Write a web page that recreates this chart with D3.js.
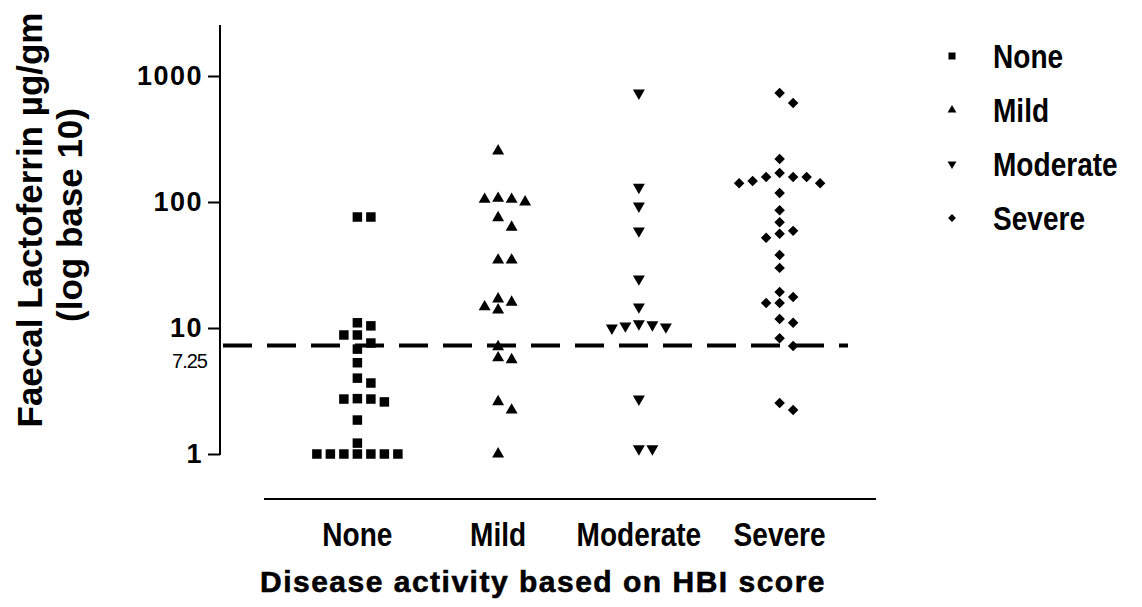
<!DOCTYPE html>
<html>
<head>
<meta charset="utf-8">
<script src="https://cdn.jsdelivr.net/npm/d3@7"></script>
<style>
	body { margin: 0; background: #fff; }
	text { fill: #000; }
</style>
</head>
<body>
<div id="chart"></div>
<script>
const categories = ["None", "Mild", "Moderate", "Severe"];
const noneValues = [76, 76, 11, 10.4, 8.8, 8.8, 7.6, 6.8, 5.3, 4.0, 3.66, 2.75, 2.73, 2.73, 2.59, 1.86, 1.22, 1, 1, 1, 1, 1, 1, 1];
const mildValues = [254, 107, 105, 105, 100, 75, 63, 34.6, 34.6, 17, 16, 14.7, 13.9, 7.1, 5.8, 5.6, 2.6, 2.23, 1];
const moderateValues = [733, 131, 93, 59, 24.5, 14.7, 10.8, 10.6, 10.4, 10.2, 10, 2.73, 1.1, 1.1];
const severeValues = [733, 611, 219, 170, 158, 158, 158, 147, 141, 141, 118, 86, 69, 59, 56, 52, 38, 30, 19.3, 17.6, 15.8, 15.8, 11.8, 11, 8.3, 7.2, 2.54, 2.23];
const yTicks = [1, 10, 100, 1000];
const cutoff = 7.25;

const groups = [noneValues, mildValues, moderateValues, severeValues];

const width = 1142;
const height = 607;
const SANS = "'Liberation Sans', Arial, sans-serif";

let svg = d3
	.select("#chart")
	.append("svg")
	.attr("width", width)
	.attr("height", height);

let y = d3.scaleLog().domain([1, 1000]).range([454, 76]);
let x = d3.scalePoint().domain(categories).range([287, 850]).padding(0.5);

// symbols: square, triangle up, triangle down, diamond
const shapes = [
	{ type: d3.symbolSquare, size: 90, rot: 0 },
	{ type: d3.symbolTriangle, size: 62, rot: 0 },
	{ type: d3.symbolTriangle, size: 62, rot: 180 },
	{ type: d3.symbolDiamond2, size: 70, rot: 0 },
];

// no narrow font installed, so squeeze the text ourselves
function narrow(sel, k) {
	sel.each(function () {
		const len = this.getComputedTextLength();
		d3.select(this)
			.attr("textLength", len * k)
			.attr("lengthAdjust", "spacingAndGlyphs");
	});
}

// y axis
let yAxis = svg
	.append("g")
	.attr("transform", "translate(220,0)")
	.call(
		d3.axisLeft(y)
			.tickValues(yTicks)
			.tickFormat(d3.format("d"))
			.tickSize(12)
			.tickPadding(5)
	);
yAxis.select(".domain").remove();
yAxis.selectAll(".tick line").attr("stroke", "#000").attr("stroke-width", 2);
yAxis
	.selectAll(".tick text")
	.attr("font-family", SANS)
	.attr("font-weight", "bold")
	.attr("font-size", "27px")
	.attr("letter-spacing", "1.5px");
svg.append("line")
	.attr("x1", 220).attr("x2", 220)
	.attr("y1", 25).attr("y2", y(1) + 1)
	.attr("stroke", "#000")
	.attr("stroke-width", 2);

// x axis line (no ticks)
svg.append("line")
	.attr("x1", 264).attr("x2", 876)
	.attr("y1", 499).attr("y2", 499)
	.attr("stroke", "#000")
	.attr("stroke-width", 2);

svg.append("g")
	.selectAll("text")
	.data(categories)
	.join("text")
	.attr("x", (d) => x(d))
	.attr("y", 546)
	.attr("text-anchor", "middle")
	.attr("font-family", SANS)
	.attr("font-weight", "bold")
	.attr("font-size", "33px")
	.text((d) => d)
	.call(narrow, 0.85);

// cutoff line
svg.append("line")
	.attr("x1", 223).attr("x2", 848)
	.attr("y1", y(cutoff)).attr("y2", y(cutoff))
	.attr("stroke", "#000")
	.attr("stroke-width", 4)
	.attr("stroke-dasharray", "29,15");

svg.append("text")
	.attr("x", 207)
	.attr("y", y(cutoff) + 22)
	.attr("text-anchor", "end")
	.attr("font-family", SANS)
	.attr("font-size", "20px")
	.attr("letter-spacing", "-1px")
	.text(cutoff);

// spread points sideways so they don't overlap
const slotW = 13.5;
const minDy = 10.5;
const slotOrder = [0, 1, -1, 2, -2, 3, -3, 4, -4, 5, -5];

let points = [];
groups.forEach(function (vals, gi) {
	let placed = [];
	vals.forEach(function (v) {
		const py = y(v);
		let slot = 0;
		for (let s of slotOrder) {
			let clash = placed.some(function (p) {
				return p.slot === s && Math.abs(p.py - py) < minDy;
			});
			if (!clash) {
				slot = s;
				break;
			}
		}
		placed.push({ slot: slot, py: py });
		points.push({ group: gi, value: v, px: x(categories[gi]) + slot * slotW, py: py });
	});
});

svg.append("g")
	.selectAll("path")
	.data(points)
	.join("path")
	.attr("d", (d) => d3.symbol().type(shapes[d.group].type).size(shapes[d.group].size)())
	.attr("transform", (d) => "translate(" + d.px + "," + d.py + ") rotate(" + shapes[d.group].rot + ")")
	.attr("fill", "#000");

// legend
let legend = svg
	.append("g")
	.selectAll("g")
	.data(categories)
	.join("g")
	.attr("transform", (d, i) => "translate(952," + (56 + i * 54) + ")");

legend
	.append("path")
	.attr("d", (d, i) => d3.symbol().type(shapes[i].type).size(shapes[i].size * 0.55)())
	.attr("transform", (d, i) => "rotate(" + shapes[i].rot + ")")
	.attr("fill", "#000");

legend
	.append("text")
	.attr("x", 41)
	.attr("y", 12)
	.attr("font-family", SANS)
	.attr("font-weight", "bold")
	.attr("font-size", "33px")
	.text((d) => d)
	.call(narrow, 0.85);

// axis titles
svg.append("text")
	.attr("transform", "translate(42,220) rotate(-90)")
	.attr("text-anchor", "middle")
	.attr("font-family", SANS)
	.attr("font-weight", "bold")
	.attr("font-size", "35px")
	.text("Faecal Lactoferrin µg/gm");

svg.append("text")
	.attr("transform", "translate(82,215) rotate(-90)")
	.attr("text-anchor", "middle")
	.attr("font-family", SANS)
	.attr("font-weight", "bold")
	.attr("font-size", "35px")
	.text("(log base 10)");

svg.append("text")
	.attr("x", 543)
	.attr("y", 592)
	.attr("text-anchor", "middle")
	.attr("font-family", SANS)
	.attr("font-weight", "bold")
	.attr("font-size", "30px")
	.attr("letter-spacing", "1.5px")
	.attr("stroke", "#000")
	.attr("stroke-width", 0.6)
	.text("Disease activity based on HBI score");
</script>
</body>
</html>
